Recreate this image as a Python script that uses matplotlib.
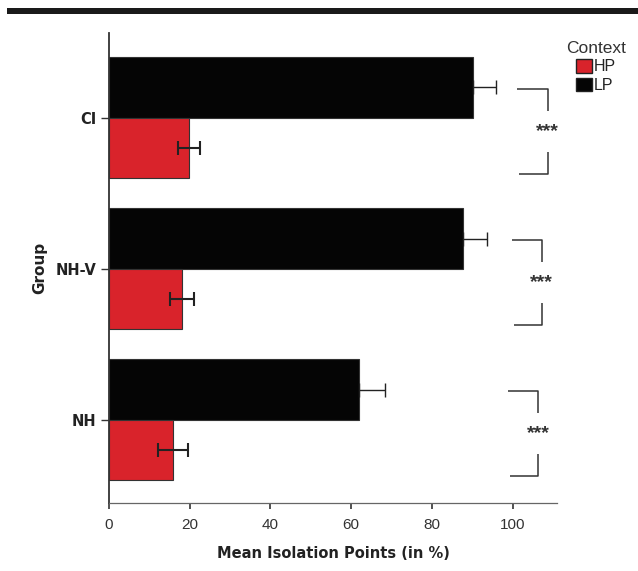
import numpy as np
import matplotlib.pyplot as plt
from matplotlib.patches import Rectangle, Patch

# ── Data ─────────────────────────────────────────────────────────────────────
groups = ["NH", "NH-V", "CI"]          # bottom to top
hp_mean = [15.8, 18.1, 19.8]
hp_err = [3.7, 3.0, 2.8]
lp_mean = [61.9, 87.6, 90.1]
lp_err = [6.6, 6.0, 5.9]

# bracket x-extent (left end, right end) per group, and significance label
bracket_x = [(98.8, 106.4), (99.8, 107.2), (101.0, 108.7)]
sig_labels = ["***", "***", "***"]

RED = "#d9232b"
BLACK = "#050505"

plt.rcParams["font.family"] = ["Liberation Sans", "DejaVu Sans"]

fig = plt.figure(figsize=(6.38, 5.71), dpi=100)
ax = fig.add_axes([0.1708, 0.1191, 0.7022, 0.8231])

# page border band at the top
fig.patches.append(Rectangle((0.011, 0.975), 0.989, 0.011, transform=fig.transFigure,
                             facecolor="#1a1a1a", edgecolor="none"))

y = np.arange(len(groups))
h = 0.40
ax.barh(y + h / 2, lp_mean, h, color=BLACK, edgecolor="#333333", linewidth=0.8, zorder=2)
ax.barh(y - h / 2, hp_mean, h, color=RED, edgecolor="#333333", linewidth=0.8, zorder=2)
# lower whisker of LP bars is hidden inside the black bar
ax.errorbar(lp_mean, y + h / 2, xerr=[np.zeros(len(lp_err)), lp_err], fmt="none",
            ecolor="#222222", elinewidth=1.0, capsize=5, capthick=1.0, zorder=3)
ax.errorbar(hp_mean, y - h / 2, xerr=hp_err, fmt="none", ecolor="#222222",
            elinewidth=1.5, capsize=5, capthick=1.5, zorder=3)

# significance brackets
for yi, (x0, x1), lab in zip(y, bracket_x, sig_labels):
    kw = dict(color="#333333", lw=1.1, clip_on=False, solid_capstyle="butt")
    ax.plot([x0, x1, x1], [yi + 0.19, yi + 0.19, yi + 0.045], **kw)
    ax.plot([x0 + 0.5, x1, x1], [yi - 0.37, yi - 0.37, yi - 0.225], **kw)
    ax.text(x1, yi - 0.09, lab, ha="center", va="center", fontsize=14,
            fontweight="bold", color="#333333")

ax.set_xlim(0, 111)
ax.set_ylim(-0.55, 2.56)
ax.set_yticks(y)
ax.set_yticklabels(groups, fontweight="bold", fontsize=10.5, color="#222222",
                   family="DejaVu Sans")
ax.set_xticks([0, 20, 40, 60, 80, 100])
ax.tick_params(axis="x", labelsize=11, labelcolor="#333333", length=4,
               width=1.2, color="#333333", pad=7)
ax.tick_params(axis="y", length=6, width=1.0, color="#333333", pad=3)
ax.set_xlabel("Mean Isolation Points (in %)", fontweight="bold", fontsize=10.5,
              color="#222222", family="DejaVu Sans", labelpad=10)
ax.set_ylabel("Group", fontweight="bold", fontsize=11, color="#222222",
              family="DejaVu Sans", labelpad=6)

for side in ["top", "right"]:
    ax.spines[side].set_visible(False)
ax.spines["left"].set_color("#333333")
ax.spines["left"].set_linewidth(1.3)
ax.spines["bottom"].set_color("#666666")
ax.spines["bottom"].set_linewidth(0.9)

handles = [Patch(facecolor=RED, edgecolor="#222222", label="HP"),
           Patch(facecolor=BLACK, edgecolor="#222222", label="LP")]
leg = fig.legend(handles=handles, title="Context", loc="upper left",
                 bbox_to_anchor=(0.870, 0.948), frameon=False, fontsize=11.5,
                 title_fontsize=12.5, handlelength=0.95, handleheight=0.95,
                 handletextpad=0.15, labelspacing=0.2, borderpad=0.2)
for t in leg.get_texts():
    t.set_color("#222222")
leg.get_title().set_color("#333333")

fig.savefig("out.png", dpi=100, facecolor="white")
